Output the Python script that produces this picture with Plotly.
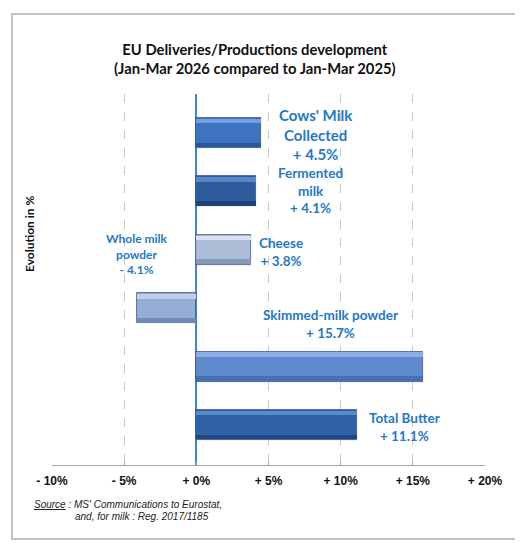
import plotly.graph_objects as go

# ---- data ----
categories = ["Cows' Milk Collected", "Fermented milk", "Cheese",
              "Whole milk powder", "Skimmed-milk powder", "Total Butter"]
values = [4.5, 4.1, 3.8, -4.1, 15.7, 11.1]
bar_labels = ["Cows' Milk<br>Collected<br>+ 4.5%",
              "Fermented<br>milk<br>+ 4.1%",
              "Cheese<br>+ 3.8%",
              "Whole milk<br>powder<br>- 4.1%",
              "Skimmed-milk powder<br>+ 15.7%",
              "Total Butter<br>+ 11.1%"]
tick_vals = [-10, -5, 0, 5, 10, 15, 20]
tick_text = ["- 10%", "- 5%", "+ 0%", "+ 5%", "+ 10%", "+ 15%", "+ 20%"]

# ---- styles ----
main_cols = ["#3d74bf", "#2d5c9e", "#adbdd8", "#94acd6", "#5e8bd0", "#2f61a7"]
hi_cols = ["#729fe0", "#5a86c6", "#d8e1ee", "#bfcfe9", "#8aade2", "#5d8acc"]
dk_cols = ["#2a5796", "#1f4478", "#8597b9", "#7189b8", "#4670b0", "#1f4680"]
label_pos = [(8.31, 0.03), (7.9, 0.99), (5.89, 2.03), (-4.09, 2.07), (9.28, 3.27), (14.4, 5.03)]
label_sizes = [15, 13.5, 13.5, 12, 13.5, 13.5]
BLUE = "#1f78c8"

ypos = list(range(len(categories)))
W = 0.514
stripe = 0.08

fig = go.Figure()
fig.add_trace(go.Bar(x=values, y=ypos, orientation="h", width=W,
                     marker=dict(color=main_cols, line=dict(color="#3a5680", width=0.8)),
                     hovertext=categories, showlegend=False))
fig.add_trace(go.Bar(x=values, y=ypos, orientation="h", width=stripe, offset=-W / 2 + 0.012,
                     marker=dict(color=hi_cols, line=dict(width=0)), showlegend=False,
                     hoverinfo="skip"))
fig.add_trace(go.Bar(x=values, y=ypos, orientation="h", width=stripe, offset=W / 2 - stripe - 0.012,
                     marker=dict(color=dk_cols, line=dict(width=0)), showlegend=False,
                     hoverinfo="skip"))

OFF = 8  # page body margin
FW, FH = 523 - OFF, 552 - OFF
L, R, T, B = 52 - OFF, 523 - 485, 94 - OFF, 552 - 465
PW, PH = FW - L - R, FH - T - B


def px(p):
    return (p - OFF - L) / PW


def py(p):
    return (FH - B - (p - OFF)) / PH


annotations = []
for txt, (lx, ly), fs in zip(bar_labels, label_pos, label_sizes):
    annotations.append(dict(x=lx, y=ly, xref="x", yref="y", text=txt, showarrow=False,
                            font=dict(family="Lato", size=fs, color=BLUE, weight="bold"),
                            xanchor="center", yanchor="middle", align="center"))

annotations.append(dict(x=px(255), y=py(58.5), xref="paper", yref="paper",
                        text="EU Deliveries/Productions development<br>(Jan-Mar 2026 compared to Jan-Mar 2025)",
                        showarrow=False, font=dict(family="Lato", size=14.8, color="#111111", weight="bold"),
                        xanchor="center", yanchor="middle", align="center"))
annotations.append(dict(x=px(29), y=py(234), xref="paper", yref="paper", text="Evolution in %",
                        textangle=-90, showarrow=False,
                        font=dict(family="Lato", size=12, color="#111111", weight="bold"),
                        xanchor="center", yanchor="middle"))
annotations.append(dict(x=px(32), y=py(504), xref="paper", yref="paper",
                        text="<u>Source</u> : MS' Communications to Eurostat,",
                        showarrow=False, font=dict(family="Liberation Sans", size=10, color="#222222",
                                                   style="italic"),
                        xanchor="left", yanchor="middle"))
annotations.append(dict(x=px(73), y=py(516), xref="paper", yref="paper",
                        text="and, for milk : Reg. 2017/1185",
                        showarrow=False, font=dict(family="Liberation Sans", size=10, color="#222222",
                                                   style="italic"),
                        xanchor="left", yanchor="middle"))

shapes = [
    dict(type="rect", xref="paper", yref="paper", x0=px(12), x1=px(517), y0=py(539), y1=py(14),
         line=dict(color="#c3c3c3", width=2), fillcolor="rgba(0,0,0,0)", layer="below"),
    dict(type="line", xref="paper", yref="paper", x0=px(507), x1=px(523), y0=py(3), y1=py(3),
         line=dict(color="#4caf50", width=2)),
]

fig.update_layout(
    width=FW, height=FH, margin=dict(l=L, r=R, t=T, b=B),
    paper_bgcolor="white", plot_bgcolor="white",
    barmode="overlay", bargap=0,
    annotations=annotations, shapes=shapes,
    xaxis=dict(range=[-10, 20], tickvals=tick_vals, ticktext=tick_text,
               showgrid=True, gridcolor="#c8c8c8", griddash="dash", gridwidth=1,
               zeroline=True, zerolinecolor="#3a87d0", zerolinewidth=1.5,
               showline=True, linecolor="#a6a6a6", linewidth=1,
               ticks="inside", ticklen=4, tickcolor="#a6a6a6",
               tickfont=dict(family="Liberation Sans", size=12, color="#111111", weight="bold"),
               ticklabelstandoff=5, fixedrange=True),
    yaxis=dict(range=[5.685, -0.668], showgrid=False, zeroline=False, showticklabels=False,
               showline=False, fixedrange=True),
)

fig.write_html("out.html")
